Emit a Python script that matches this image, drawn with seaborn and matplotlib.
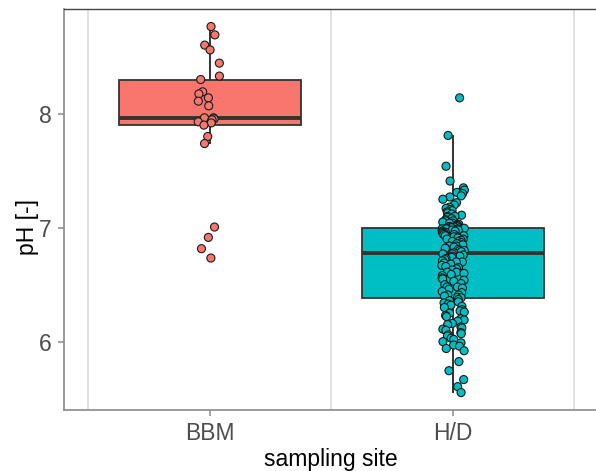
import numpy as np
import pandas as pd
import matplotlib
matplotlib.use("Agg")
import matplotlib.pyplot as plt
import seaborn as sns
from matplotlib.ticker import FixedLocator

# ---- data ----
sites = ["BBM", "H/D"]
colors = ["#F8766D", "#00BFC4"]
y_ticks = [6, 7, 8]

ph_bbm = [8.766, 8.693, 8.603, 8.561, 8.445, 8.331, 8.301, 8.193, 8.175, 8.140,
          8.111, 8.070, 7.965, 7.965, 7.955, 7.947, 7.930, 7.920, 7.901, 7.801,
          7.739, 7.006, 6.915, 6.816, 6.734]

ph_hd = [
    # above Q3
    8.14, 7.81, 7.54, 7.41, 7.35, 7.33, 7.31, 7.30, 7.28, 7.27,
    7.25, 7.22, 7.20, 7.18, 7.17, 7.16, 7.15, 7.14, 7.13, 7.12,
    7.11, 7.10, 7.10, 7.09, 7.08, 7.07, 7.06, 7.06, 7.05, 7.04,
    7.04, 7.03, 7.03, 7.02, 7.02, 7.01, 7.01, 7.01, 7.005, 7.005,
    7.00,
    # between median and Q3
    6.99, 6.995, 6.995, 6.99, 6.99, 6.98, 6.98, 6.98, 6.97, 6.97,
    6.96, 6.96, 6.95, 6.95, 6.94, 6.94, 6.93, 6.93, 6.92, 6.92,
    6.91, 6.90, 6.90, 6.89, 6.88, 6.88, 6.87, 6.86, 6.86, 6.85,
    6.84, 6.84, 6.83, 6.82, 6.82, 6.81, 6.80, 6.80, 6.79,
    6.78,
    # between Q1 and median
    6.77, 6.77, 6.76, 6.75, 6.75, 6.74, 6.73, 6.72, 6.71, 6.70,
    6.70, 6.69, 6.68, 6.67, 6.66, 6.65, 6.64, 6.63, 6.61, 6.61,
    6.60, 6.59, 6.58, 6.56, 6.55, 6.54, 6.53, 6.51, 6.50, 6.48,
    6.48, 6.47, 6.46, 6.44, 6.43, 6.41, 6.41, 6.40, 6.39,
    6.385,
    # below Q1
    6.37, 6.36, 6.35, 6.34, 6.33, 6.32, 6.31, 6.30, 6.28, 6.27,
    6.26, 6.25, 6.23, 6.22, 6.20, 6.19, 6.18, 6.16, 6.15, 6.13,
    6.12, 6.11, 6.10, 6.08, 6.07, 6.06, 6.05, 6.03, 6.02, 6.00,
    5.99, 5.97, 5.96, 5.94, 5.92, 5.825, 5.745, 5.667, 5.605, 5.553,
]

df = pd.DataFrame({
    "site": ["BBM"] * len(ph_bbm) + ["H/D"] * len(ph_hd),
    "pH": ph_bbm + ph_hd,
})

sns.set_theme(style="white")
plt.rcParams["font.family"] = ["Liberation Sans", "DejaVu Sans"]

fig = plt.figure(figsize=(5.96, 4.71), dpi=100)
ax = fig.add_axes([64 / 596, 61 / 471, 534.6 / 596, 401 / 471])

sns.boxplot(data=df, x="site", y="pH", hue="site", order=sites, hue_order=sites,
            palette=colors, saturation=1, width=0.75, linewidth=1.3,
            linecolor="#333333", showfliers=False,
            medianprops=dict(linewidth=2.8, color="#333333"),
            capprops=dict(visible=False),
            whiskerprops=dict(linewidth=1.4, color="#333333"),
            legend=False, ax=ax)

np.random.seed(3)
sns.stripplot(data=df, x="site", y="pH", hue="site", order=sites, hue_order=sites,
              palette=colors, jitter=0.05, size=5.8, linewidth=0.8,
              edgecolor="#1a1a1a", legend=False, ax=ax, zorder=3)

ax.set_xlim(-0.6, 1.6)
ax.set_ylim(5.40, 8.92)
ax.set_yticks(y_ticks)
ax.set_yticklabels([str(t) for t in y_ticks])

ax.xaxis.set_minor_locator(FixedLocator([-0.5, 0.5, 1.5]))
ax.grid(False)
ax.grid(which="minor", axis="x", color="#DEDEDE", linewidth=1.3)
ax.set_axisbelow(True)
ax.tick_params(which="minor", length=0)

ax.spines["right"].set_visible(False)
ax.spines["top"].set_color("#444444")
ax.spines["top"].set_linewidth(1.0)
for s in ["left", "bottom"]:
    ax.spines[s].set_color("#8a8a8a")
    ax.spines[s].set_linewidth(1.2)

ax.tick_params(axis="both", which="major", bottom=True, left=True, length=4,
               width=1.1, color="#8a8a8a", labelsize=16.5, labelcolor="#4D4D4D",
               pad=5)

ax.set_xlabel("sampling site", fontsize=16.5, color="black")
ax.set_ylabel("pH [-]", fontsize=16.5, color="black")
ax.xaxis.set_label_coords((331 - 64) / 534.6, (410 - 448) / 401)
ax.yaxis.set_label_coords((39 - 64) / 534.6, (410 - 227) / 401)

fig.savefig("out.png", dpi=100)
